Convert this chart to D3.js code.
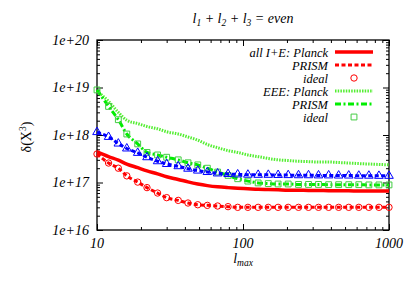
<!DOCTYPE html>
<html><head><meta charset="utf-8">
<script src="https://cdn.jsdelivr.net/npm/d3@7"></script>
<style>
body{margin:0;background:#fff}
svg text{font-family:'Liberation Serif','Times New Roman',Times,serif;font-style:italic;fill:#000}
</style>
</head><body>
<svg id="c" width="409" height="286"></svg>
<script>
// l_max sample points
const lmax = [10,12,14,16,19,22,26,30,36,42,49,57,67,79,92,108,127,149,174,204,240,281,329,386,452,530,621,728,853,1000];
// all I+E
const allPlanck = [4.4e17,3.5e17,2.95e17,2.45e17,2.05e17,1.76e17,1.52e17,1.32e17,1.16e17,1.03e17,9.3e16,8.6e16,8.1e16,7.8e16,7.6e16,7.4e16,7.2e16,7.1e16,7.0e16,6.9e16,6.9e16,6.8e16,6.8e16,6.7e16,6.7e16,6.7e16,6.6e16,6.6e16,6.6e16,6.6e16];
const allPrism  = [3.98e17,2.57e17,2.0e17,1.38e17,1.02e17,7.8e16,6.0e16,4.8e16,4.2e16,3.7e16,3.4e16,3.3e16,3.2e16,3.1e16,3.0e16,3.0e16,3.0e16,3.0e16,3.0e16,3.0e16,3.0e16,3.0e16,3.0e16,3.0e16,3.0e16,3.0e16,3.0e16,3.0e16,3.0e16,3.0e16];
const allIdeal  = [3.98e17,2.57e17,2.0e17,1.38e17,1.02e17,7.8e16,6.0e16,4.8e16,4.2e16,3.7e16,3.4e16,3.3e16,3.2e16,3.1e16,3.0e16,3.0e16,3.0e16,3.0e16,3.0e16,3.0e16,3.0e16,3.0e16,3.0e16,3.0e16,3.0e16,3.0e16,3.0e16,3.0e16,3.0e16,3.0e16];
// EEE
const eeePlanck = [8.5e18,5.1e18,3.0e18,2.04e18,1.74e18,1.51e18,1.35e18,1.17e18,1.05e18,9.1e17,7.8e17,6.3e17,5.4e17,4.7e17,4.3e17,3.8e17,3.5e17,3.2e17,3.0e17,2.9e17,2.8e17,2.75e17,2.7e17,2.7e17,2.63e17,2.57e17,2.5e17,2.45e17,2.4e17,2.35e17];
const eeePrism  = [8.9e18,4.0e18,2.1e18,1.05e18,6.5e17,4.3e17,3.8e17,3.4e17,3.0e17,2.6e17,2.35e17,2.0e17,1.66e17,1.41e17,1.2e17,1.07e17,9.8e16,9.5e16,9.3e16,9.3e16,9.1e16,9.1e16,9.1e16,9.0e16,9.0e16,9.0e16,9.0e16,8.9e16,8.9e16,8.9e16];
const eeeIdeal  = [8.9e18,4.0e18,2.1e18,1.05e18,6.5e17,4.3e17,3.8e17,3.4e17,3.0e17,2.6e17,2.35e17,2.0e17,1.66e17,1.41e17,1.2e17,1.07e17,9.8e16,9.5e16,9.3e16,9.3e16,9.1e16,9.1e16,9.1e16,9.0e16,9.0e16,9.0e16,9.0e16,8.9e16,8.9e16,8.9e16];
// third (blue) set, not listed in legend
const blueSet   = [1.15e18,9.1e17,6.6e17,5.2e17,4.2e17,3.4e17,2.8e17,2.45e17,2.2e17,1.95e17,1.78e17,1.66e17,1.55e17,1.51e17,1.48e17,1.46e17,1.45e17,1.45e17,1.44e17,1.43e17,1.42e17,1.42e17,1.41e17,1.41e17,1.40e17,1.40e17,1.39e17,1.39e17,1.38e17,1.38e17];

const xTickLabels = ["10","100","1000"];
const yTickLabels = ["1e+16","1e+17","1e+18","1e+19","1e+20"];
const legendLabels = ["all I+E: Planck","PRISM","ideal","EEE: Planck","PRISM","ideal"];

const FONT = "'Liberation Serif','Times New Roman',Times,serif";
const svg = d3.select("#c").attr("font-family",FONT);
const L=97,R=389,T=40,B=230;
const x = d3.scaleLog().domain([10,1000]).range([L,R]);
const y = d3.scaleLog().domain([1e16,1e20]).range([B,T]);

// frame
svg.append("rect").attr("x",L).attr("y",T).attr("width",R-L).attr("height",B-T)
  .attr("fill","none").attr("stroke","#000").attr("stroke-width",1.3);

const isMajor = v => Math.abs(Math.log10(v)-Math.round(Math.log10(v)))<1e-9;
const xt = x.ticks(), yt = y.ticks();
const xMaj = xt.filter(isMajor), xMin = xt.filter(v=>!isMajor(v));
const yMaj = yt.filter(isMajor), yMin = yt.filter(v=>!isMajor(v));

function tickAxis(axisFn, scale, vals, size, tr){
  const g = svg.append("g").attr("transform",tr)
    .call(axisFn(scale).tickValues(vals).tickSize(-size).tickFormat(""));
  g.select(".domain").remove();
  g.selectAll("line").attr("stroke","#000").attr("stroke-width",1);
  return g;
}
tickAxis(d3.axisBottom,x,xMaj,6,`translate(0,${B})`);
tickAxis(d3.axisBottom,x,xMin,3,`translate(0,${B})`);
tickAxis(d3.axisTop,x,xMaj,6,`translate(0,${T})`);
tickAxis(d3.axisTop,x,xMin,3,`translate(0,${T})`);
tickAxis(d3.axisLeft,y,yMaj,6,`translate(${L},0)`);
tickAxis(d3.axisLeft,y,yMin,3,`translate(${L},0)`);
tickAxis(d3.axisRight,y,yMaj,6,`translate(${R},0)`);
tickAxis(d3.axisRight,y,yMin,3,`translate(${R},0)`);

function txt(sel){ return sel.attr("font-family",FONT).attr("font-style","italic"); }

// tick labels
txt(svg.append("g").selectAll("text").data(xMaj).join("text"))
  .attr("x",d=>x(d)).attr("y",B+18).attr("text-anchor","middle").attr("font-size",14)
  .text((d,i)=>xTickLabels[i]);
txt(svg.append("g").selectAll("text").data(yMaj).join("text"))
  .attr("x",L-8).attr("y",d=>y(d)+4.5).attr("text-anchor","end").attr("font-size",14)
  .text((d,i)=>yTickLabels[i]);

// title
const title = txt(svg.append("text")).attr("x",243).attr("y",23).attr("text-anchor","middle").attr("font-size",14);
title.append("tspan").text("l");
title.append("tspan").text("1").attr("font-size",9.5).attr("dy",3);
title.append("tspan").text(" + l").attr("dy",-3);
title.append("tspan").text("2").attr("font-size",9.5).attr("dy",3);
title.append("tspan").text(" + l").attr("dy",-3);
title.append("tspan").text("3").attr("font-size",9.5).attr("dy",3);
title.append("tspan").text(" = even").attr("dy",-3);

// x label
const xl = txt(svg.append("text")).attr("x",243).attr("y",263).attr("text-anchor","middle").attr("font-size",14);
xl.append("tspan").text("l");
xl.append("tspan").text("max").attr("font-size",9.5).attr("dy",3);

// y label
const yl = svg.append("text").attr("font-family",FONT).attr("transform","translate(31,137) rotate(-90)")
  .attr("text-anchor","middle").attr("font-size",14).style("font-style","normal");
yl.append("tspan").text("δ(X");
yl.append("tspan").text("3").attr("font-size",9.5).attr("dy",-5);
yl.append("tspan").text(")").attr("dy",5);

// data lines
const line = d3.line().x((d,i)=>x(lmax[i])).y(d=>y(d)).curve(d3.curveMonotoneX);
const plotG = svg.append("g");
function drawLine(data,color,w,dash){
  plotG.append("path").datum(data).attr("d",line).attr("fill","none")
    .attr("stroke",color).attr("stroke-width",w).attr("stroke-dasharray",dash||null);
}
const RED="#ff0000", GREEN="#00ee00", LGREEN="#55ee33", SQ="#44cc44", BLUE="#0000ff";
const sym = {
  circle: d3.symbol().type(d3.symbolCircle).size(32),
  square: d3.symbol().type(d3.symbolSquare).size(34),
  triangle: d3.symbol().type(d3.symbolTriangle).size(32)
};
function drawMarks(data,type,color){
  plotG.append("g").selectAll("path").data(data).join("path")
    .attr("transform",(d,i)=>`translate(${x(lmax[i])},${y(d)})`)
    .attr("d",sym[type]).attr("fill","none").attr("stroke",color).attr("stroke-width",1);
}
drawLine(allPlanck,RED,3.5);
drawLine(allPrism,RED,3,"4,2.5");
drawMarks(allIdeal,"circle",RED);
drawLine(eeePlanck,LGREEN,3,"1.5,1.2");
drawLine(eeePrism,GREEN,3,"6,2.5,2,2.5");
drawMarks(eeeIdeal,"square",SQ);
drawLine(blueSet,BLUE,3,"4,2.5");
drawMarks(blueSet,"triangle",BLUE);

// legend
const rows=[52,65,78,91,104,117];
const lg = svg.append("g");
txt(lg.selectAll("text").data(legendLabels).join("text"))
  .attr("x",328).attr("y",(d,i)=>rows[i]+4.5).attr("text-anchor","end").attr("font-size",12.5).text(d=>d);
function legLine(row,color,w,dash){
  lg.append("line").attr("x1",335).attr("x2",373).attr("y1",rows[row]).attr("y2",rows[row])
    .attr("stroke",color).attr("stroke-width",w).attr("stroke-dasharray",dash||null);
}
legLine(0,RED,3.5); legLine(1,RED,3,"4,2.5"); legLine(3,LGREEN,3,"1.5,1.2"); legLine(4,GREEN,3,"6,2.5,2,2.5");
lg.append("path").attr("transform",`translate(354,${rows[2]})`).attr("d",sym.circle).attr("fill","none").attr("stroke",RED);
lg.append("path").attr("transform",`translate(354,${rows[5]})`).attr("d",sym.square).attr("fill","none").attr("stroke",SQ);
</script>
</body></html>
